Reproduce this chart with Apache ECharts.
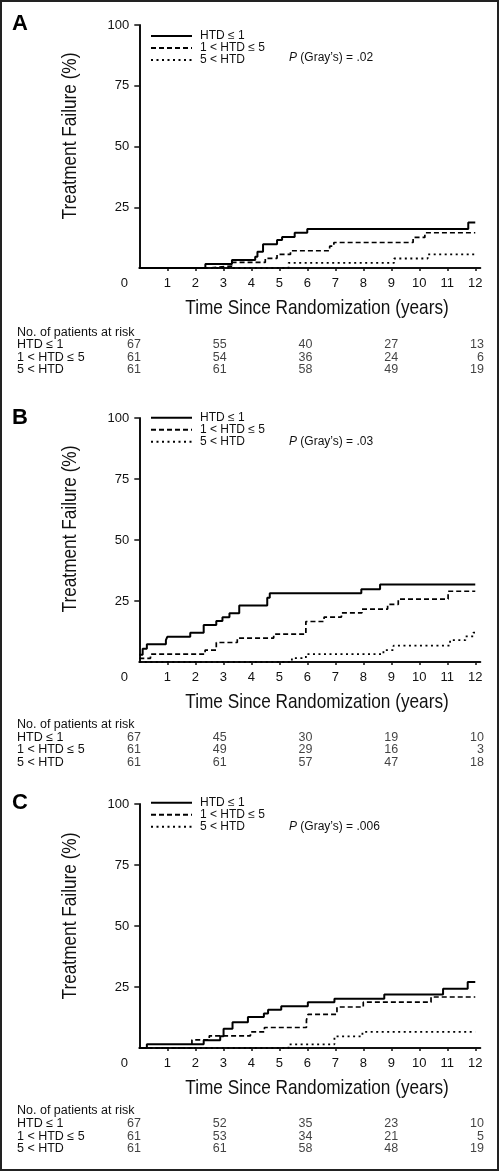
<!DOCTYPE html>
<html>
<head>
<meta charset="utf-8">
<script src="https://cdn.jsdelivr.net/npm/echarts@6/dist/echarts.min.js"></script>
<style>
html,body{margin:0;padding:0;background:#fff;}
#chart{width:500px;height:1172px;}
</style>
</head>
<body>
<div id="chart"></div>
<script>
// ---------- data ----------
const groups = ['HTD \u2264 1', '1 < HTD \u2264 5', '5 < HTD'];
const xTickValues = [1,2,3,4,5,6,7,8,9,10,11,12];
const xLabelValues = [0,1,2,3,4,5,6,7,8,9,10,11,12];
const yTickValues = [25,50,75,100];
const riskTimes = [0,3,6,9,12];
const panelLetters = ['A','B','C'];
const pValues = ['.02','.03','.006'];
const xTitle = 'Time Since Randomization (years)';
const yTitle = 'Treatment Failure (%)';
const riskTitle = 'No. of patients at risk';

// Panel A
const tA1 = [0, 2.36, 3.31, 4.14, 4.22, 4.42, 4.92, 5.1, 5.55, 6.0, 11.75, 12.0];
const vA1 = [0, 1.6, 3.3, 4.6, 6.7, 9.8, 11.5, 12.8, 14.5, 16.0, 18.7, 18.7];
const tA2 = [0, 2.45, 3.3, 4.5, 4.92, 5.4, 6.8, 6.95, 9.78, 10.2, 12.0];
const vA2 = [0, 0.8, 2.3, 4.0, 5.6, 7.1, 9.0, 10.5, 12.6, 14.5, 14.5];
const tA3 = [0, 5.33, 9.1, 10.3, 12.0];
const vA3 = [0, 2.1, 3.9, 5.6, 5.6];
// Panel B
const tB1 = [0, 0.12, 0.27, 0.95, 1.0, 1.82, 2.3, 2.75, 2.97, 3.22, 3.57, 4.57, 4.66, 7.93, 8.6, 12.0];
const vB1 = [3.0, 5.4, 7.3, 9.0, 10.3, 12.0, 15.2, 16.8, 18.3, 20.0, 23.2, 26.3, 28.2, 29.8, 31.8, 31.8];
const tB2 = [0, 0.4, 2.35, 2.75, 3.5, 4.8, 5.95, 6.6, 7.22, 7.95, 8.87, 9.25, 11.03, 12.0];
const vB2 = [1.5, 3.2, 4.9, 8.0, 9.8, 11.4, 16.6, 18.4, 20.1, 21.7, 23.6, 25.8, 29.0, 29.0];
const tB3 = [0, 5.45, 5.95, 8.72, 9.08, 11.1, 11.65, 11.93, 12.0];
const vB3 = [0, 1.6, 3.2, 4.9, 6.7, 9.0, 10.5, 12.0, 12.0];
// Panel C
const tC1 = [0, 0.27, 2.3, 2.89, 3.01, 3.33, 3.88, 4.45, 4.6, 5.07, 6.02, 6.97, 8.75, 10.85, 11.73, 12.0];
const vC1 = [0, 1.5, 3.2, 4.8, 7.9, 10.6, 12.7, 14.1, 15.7, 17.1, 18.8, 20.2, 21.9, 24.3, 27.0, 27.0];
const tC2 = [0, 1.88, 2.5, 3.97, 4.47, 5.97, 6.03, 7.06, 8.0, 10.42, 12.0];
const vC2 = [0, 3.3, 5.0, 6.6, 8.4, 11.5, 13.8, 16.8, 18.8, 20.9, 20.9];
const tC3 = [0, 5.33, 6.97, 7.97, 12.0];
const vC3 = [0, 1.5, 4.8, 6.6, 6.6];

// Numbers at risk
const riskA1 = [67,55,40,27,13], riskA2 = [61,54,36,24,6], riskA3 = [61,61,58,49,19];
const riskB1 = [67,45,30,19,10], riskB2 = [61,49,29,16,3], riskB3 = [61,61,57,47,18];
const riskC1 = [67,52,35,23,10], riskC2 = [61,53,34,21,5], riskC3 = [61,61,58,48,19];

// ---------- layout / style ----------
const FONT = 'Liberation Sans, Arial, Helvetica, sans-serif';
const INK = '#111';
const lineStyles = [
  {color:'#000', width:2, type:'solid'},
  {color:'#000', width:1.7, type:[5,3]},
  {color:'#000', width:1.8, type:[2,3.5]}
];
const panels = [
  {plotTop:25, plotH:243, riskTop:338.75, noY:333, legendTop:30, letterY:24, pY:58, xtY:308, ytY:136,
   curves:[[tA1,vA1],[tA2,vA2],[tA3,vA3]], risk:[riskA1,riskA2,riskA3]},
  {plotTop:418, plotH:244, riskTop:731, noY:725, legendTop:411.7, letterY:418, pY:441.5, xtY:702, ytY:529,
   curves:[[tB1,vB1],[tB2,vB2],[tB3,vB3]], risk:[riskB1,riskB2,riskB3]},
  {plotTop:804, plotH:244, riskTop:1117.75, noY:1111, legendTop:796.7, letterY:802.5, pY:826.7, xtY:1088, ytY:916,
   curves:[[tC1,vC1],[tC2,vC2],[tC3,vC3]], risk:[riskC1,riskC2,riskC3]}
];

const grid = [], xAxis = [], yAxis = [], series = [], legend = [], graphic = [];
panels.forEach((p, i) => {
  const gPlot = grid.length;
  grid.push({left:139.3, top:p.plotTop, width:341, height:p.plotH, containLabel:false});
  grid.push({left:141, top:p.riskTop, width:343, height:37.5, containLabel:false});
  xAxis.push({
    type:'value', gridIndex:gPlot, min:0, max:12.18,
    axisLine:{show:true, onZero:false, lineStyle:{color:INK, width:2}},
    axisTick:{show:true, customValues:xTickValues, length:3, lineStyle:{color:INK, width:1.5}},
    axisLabel:{show:true, customValues:xLabelValues, margin:9, color:INK, fontSize:13, fontFamily:FONT,
      formatter: v => v === 0 ? '{z|0}' : String(v),
      rich:{z:{padding:[0,30,0,0], color:INK, fontSize:13, fontFamily:FONT}}},
    splitLine:{show:false}
  });
  xAxis.push({type:'value', gridIndex:gPlot+1, min:0, max:12, show:false});
  yAxis.push({
    type:'value', gridIndex:gPlot, min:0, max:100, interval:25,
    axisLine:{show:true, onZero:false, lineStyle:{color:INK, width:2}},
    axisTick:{show:true, customValues:yTickValues, length:5, lineStyle:{color:INK, width:1.5}},
    axisLabel:{show:true, customValues:yTickValues, margin:10, color:INK, fontSize:13, fontFamily:FONT},
    splitLine:{show:false}
  });
  yAxis.push({
    type:'category', gridIndex:gPlot+1, data:groups, inverse:true,
    axisLine:{show:false}, axisTick:{show:false}, splitLine:{show:false},
    axisLabel:{show:true, interval:0, align:'left', margin:124, color:INK, fontSize:12.5, fontFamily:FONT}
  });
  p.curves.forEach((c, k) => {
    series.push({
      type:'line', name:groups[k], xAxisIndex:gPlot, yAxisIndex:gPlot,
      step:'end', symbol:'none', showSymbol:false, animation:false,
      data:c[0].map((t, j) => [t, c[1][j]]),
      lineStyle:lineStyles[k], itemStyle:{color:lineStyles[k].color},
      z: 3 - k
    });
  });
  const riskData = [];
  p.risk.forEach((row, k) => row.forEach((n, j) => riskData.push([riskTimes[j], k, n])));
  series.push({
    type:'scatter', xAxisIndex:gPlot+1, yAxisIndex:gPlot+1, symbolSize:0, silent:true,
    data:riskData,
    label:{show:true, position:'left', distance:0, formatter: q => String(q.value[2]),
      color:INK, fontSize:12.5, fontFamily:FONT}
  });
  legend.push({
    data:groups, orient:'vertical', left:150, top:p.legendTop, padding:0,
    itemWidth:41, itemHeight:10, itemGap:0, selectedMode:false,
    itemStyle:{opacity:0, borderWidth:0},
    textStyle:{color:INK, fontSize:12, fontFamily:FONT, lineHeight:12, padding:[0,0,0,3]}
  });
  graphic.push({type:'text', left:12, top:p.letterY - 11,
    style:{text:panelLetters[i], fontSize:22, fontWeight:'bold', fontFamily:FONT, fill:'#000'}});
  graphic.push({type:'text', x:289, y:p.pY,
    style:{text:'{i|P} (Gray\u2019s) = ' + pValues[i], verticalAlign:'middle', fontSize:12, fontFamily:FONT, fill:INK,
      rich:{i:{fontStyle:'italic', fontSize:12, fontFamily:FONT, fill:INK}}}});
  graphic.push({type:'text', x:17, y:p.noY,
    style:{text:riskTitle, verticalAlign:'middle', fontSize:12.5, fontFamily:FONT, fill:INK}});
  graphic.push({type:'text', x:317, y:p.xtY, scaleX:0.82,
    style:{text:xTitle, align:'center', verticalAlign:'middle', fontSize:21, fontFamily:FONT, fill:INK}});
  graphic.push({type:'text', x:70, y:p.ytY, scaleX:0.82, rotation:Math.PI/2,
    style:{text:yTitle, align:'center', verticalAlign:'middle', fontSize:21, fontFamily:FONT, fill:INK}});
});
graphic.push({type:'rect', shape:{x:1, y:1, width:497, height:1169},
  style:{fill:'none', stroke:'#222', lineWidth:2}, silent:true});

const chart = echarts.init(document.getElementById('chart'), null, {renderer:'canvas'});
chart.setOption({
  animation:false, backgroundColor:'#fff',
  grid, xAxis, yAxis, series, legend, graphic
});
</script>
</body>
</html>
